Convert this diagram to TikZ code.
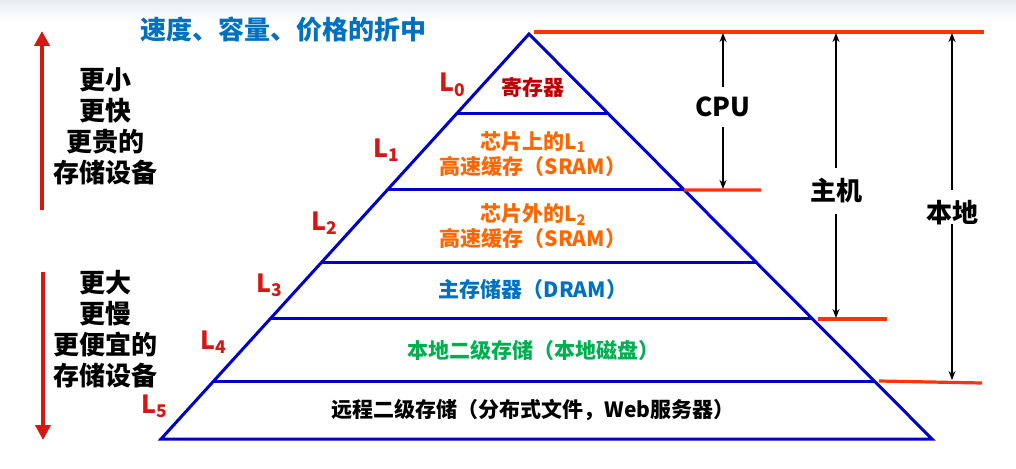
\documentclass[tikz,border=0pt]{standalone}
\usepackage{fontspec}
\setmainfont{Noto Sans CJK SC}
\usetikzlibrary{arrows.meta, calc, positioning}
\definecolor{pyrblue}{RGB}{0,0,204}
\definecolor{cutred}{RGB}{255,51,0}
\definecolor{titleblue}{RGB}{0,112,192}
\definecolor{lvlred}{RGB}{214,24,20}
\definecolor{regred}{RGB}{192,0,0}
\definecolor{sramorange}{RGB}{255,102,0}
\definecolor{diskgreen}{RGB}{0,176,80}
\tikzset{
  layer/.style={pyrblue, line width=3pt},
  cut/.style={cutred, line width=3.2pt},
  span/.style={-{Stealth[length=9pt,width=7pt]}, line width=2pt},
  trend/.style={lvlred, line width=4.5pt, -{Triangle[length=15pt,width=15pt]}},
  lvl/.style={lvlred, font=\fontsize{25}{25}\selectfont\bfseries},
  txt/.style={font=\fontsize{21}{25}\selectfont\bfseries, align=center},
  side/.style={font=\fontsize{26}{31}\selectfont\bfseries, align=center},
  tag/.style={font=\fontsize{26}{26}\selectfont\bfseries, inner sep=10pt}
}
\begin{document}
\begin{tikzpicture}[x=1pt, y=-1pt]
  \def\top{34}
  \def\hei{405}

  \useasboundingbox (0,0) rectangle (1016,468);
  \shade[top color={rgb,255:red,232;green,236;blue,242}, bottom color=white] (0,0) rectangle (1016,22);

  \coordinate (apex) at (529,\top);
  \coordinate (bl) at (161,439);
  \coordinate (br) at (932,439);
  \draw[layer, line join=miter] (apex) -- (bl) -- (br) -- cycle;
  \foreach \y [count=\i] in {114,190,262,319,381}{
    \coordinate (l\i) at ($(apex)!{(\y-\top)/\hei}!(bl)$);
    \coordinate (r\i) at ($(apex)!{(\y-\top)/\hei}!(br)$);
    \draw[layer] (l\i) -- (r\i);
  }

  \node[titleblue, font=\fontsize{26}{26}\selectfont\bfseries] (title) at (283,30) {速度、容量、价格的折中};

  \node[txt, regred] (reg) at (533,87) {寄存器};
  \node[txt, sramorange] (sram1) at (533,154) {芯片上的L\textsubscript{1}\\高速缓存（SRAM）};
  \node[txt, sramorange] (sram2) at (533,226) {芯片外的L\textsubscript{2}\\高速缓存（SRAM）};
  \node[txt, titleblue] (dram) at (533,290) {主存储器（DRAM）};
  \node[txt, diskgreen] (disk) at (533,350) {本地二级存储（本地磁盘）};
  \node[txt] (remote) at (533,410) {远程二级存储（分布式文件，Web服务器）};

  \foreach \x/\y [count=\i from 0] in {453/85,387/150,325/223,270/285,214/342,155/406}
    \node[lvl] (L\i) at (\x,\y) {L\textsubscript{\i}};

  \node[side] (small) at (105,126) {更小\\更快\\更贵的\\存储设备};
  \node[side] (large) at (105,329) {更大\\更慢\\更便宜的\\存储设备};
  \coordinate (upB) at (42,210);
  \coordinate (upT) at (42,31);
  \coordinate (dnT) at (43,272);
  \coordinate (dnB) at (43,440);
  \draw[trend] (upB) -- (upT);
  \draw[trend] (dnT) -- (dnB);

  \coordinate (topL) at (534,32);
  \coordinate (topR) at (984,32);
  \coordinate (cpuR) at (761,190);
  \coordinate (hostL) at (818,319);
  \coordinate (hostR) at (887,319);
  \coordinate (locL) at (879,381);
  \coordinate (locR) at (982,383);
  \draw[cut] (topL) -- (topR);
  \draw[cut] (r2) -- (cpuR);
  \draw[cut] (hostL) -- (hostR);
  \draw[cut] (locL) -- (locR);

  \node[tag] (cpu) at (723,107) {CPU};
  \node[tag] (host) at (836,191) {主机};
  \node[tag] (local) at (952,213) {本地};
  \coordinate (cpuT) at (723,33);
  \coordinate (cpuB) at (723,189);
  \coordinate (hostT) at (836,33);
  \coordinate (hostB) at (836,318);
  \coordinate (localT) at (952,33);
  \coordinate (localB) at (952,380);
  \draw[span] (cpu) -- (cpuT);
  \draw[span] (cpu) -- (cpuB);
  \draw[span] (host) -- (hostT);
  \draw[span] (host) -- (hostB);
  \draw[span] (local) -- (localT);
  \draw[span] (local.south) ++(0,-12) -- (localB);
\end{tikzpicture}
\end{document}
